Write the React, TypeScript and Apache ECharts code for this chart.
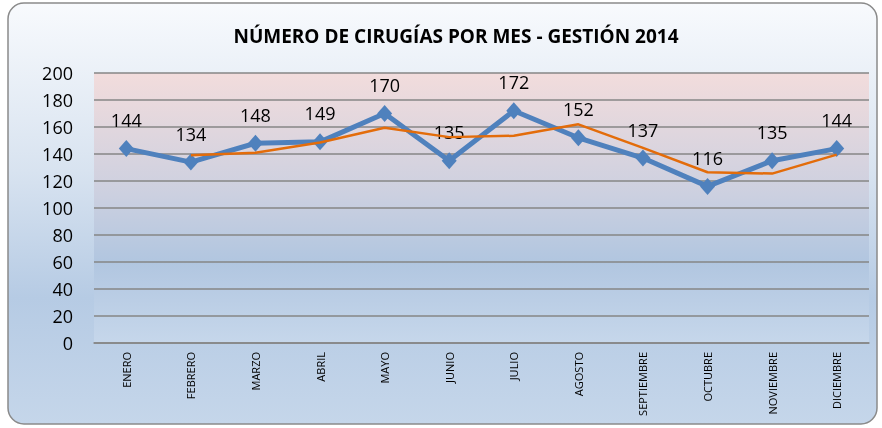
import React, { useEffect, useRef } from "react";
import * as echarts from "echarts";

const months = ["ENERO", "FEBRERO", "MARZO", "ABRIL", "MAYO", "JUNIO", "JULIO", "AGOSTO", "SEPTIEMBRE", "OCTUBRE", "NOVIEMBRE", "DICIEMBRE"];
const surgeries = [144, 134, 148, 149, 170, 135, 172, 152, 137, 116, 135, 144];
const movingAvg = [null, 139, 141, 148.5, 159.5, 152.5, 153.5, 162, 144.5, 126.5, 125.5, 139.5];
const chartTitle = "NÚMERO DE CIRUGÍAS POR MES - GESTIÓN 2014";

const FONT = "'Open Sans', 'Noto Sans', sans-serif";

export default function App() {
  const ref = useRef<HTMLDivElement>(null);
  useEffect(() => {
    if (!ref.current) return;
    const chart = echarts.init(ref.current, undefined, { renderer: "svg" });
    chart.setOption({
      animation: false,
      backgroundColor: "transparent",
      graphic: [
        {
          type: "rect",
          z: -10,
          shape: { x: 8, y: 3, width: 869, height: 421, r: 16 },
          style: {
            fill: new echarts.graphic.LinearGradient(0, 0, 0, 1, [
              { offset: 0, color: "#f8fafd" },
              { offset: 0.4, color: "#d8e3f0" },
              { offset: 0.7, color: "#b6cbe4" },
              { offset: 1, color: "#c5d6ea" },
            ]),
            stroke: "#8a8a8a",
            lineWidth: 1.5,
          },
        },
      ],
      title: {
        text: chartTitle,
        left: 451,
        textAlign: "center",
        top: 21,
        textStyle: { fontFamily: FONT, fontSize: 19, fontWeight: "bold", color: "#000" },
      },
      grid: {
        left: 94,
        right: 13,
        top: 73,
        bottom: 85,
        show: true,
        borderWidth: 0,
        backgroundColor: new echarts.graphic.LinearGradient(0, 0, 0, 1, [
          { offset: 0, color: "#f2dcdc" },
          { offset: 0.45, color: "#ccd0e0" },
          { offset: 0.7, color: "#b1c6e0" },
          { offset: 1, color: "#c6d7eb" },
        ]),
      },
      xAxis: {
        type: "category",
        data: months,
        boundaryGap: true,
        axisLine: { show: true, lineStyle: { color: "#868686", width: 1.5 } },
        axisTick: { show: false },
        axisLabel: {
          rotate: 90,
          fontFamily: FONT,
          fontSize: 11,
          color: "#000",
          margin: 9,
        },
      },
      yAxis: {
        type: "value",
        min: 0,
        max: 200,
        interval: 20,
        axisLine: { show: false },
        axisTick: { show: false },
        axisLabel: { fontFamily: FONT, fontSize: 18, color: "#000", margin: 21 },
        splitLine: { lineStyle: { color: "#868686", width: 1.5 } },
      },
      series: [
        {
          type: "line",
          data: movingAvg,
          symbol: "none",
          lineStyle: { color: "#e36c0a", width: 2.5 },
          z: 3,
        },
        {
          type: "line",
          data: surgeries,
          symbol: "diamond",
          symbolSize: [15, 17],
          itemStyle: { color: "#4f81bd" },
          lineStyle: { color: "#4f81bd", width: 5 },
          z: 2,
          label: {
            show: true,
            position: "top",
            distance: 11,
            fontFamily: FONT,
            fontSize: 18,
            color: "#000",
          },
        },
      ],
    });
    return () => chart.dispose();
  }, []);
  return <div ref={ref} style={{ position: "fixed", left: 0, top: 0, width: 882, height: 428 }} />;
}
